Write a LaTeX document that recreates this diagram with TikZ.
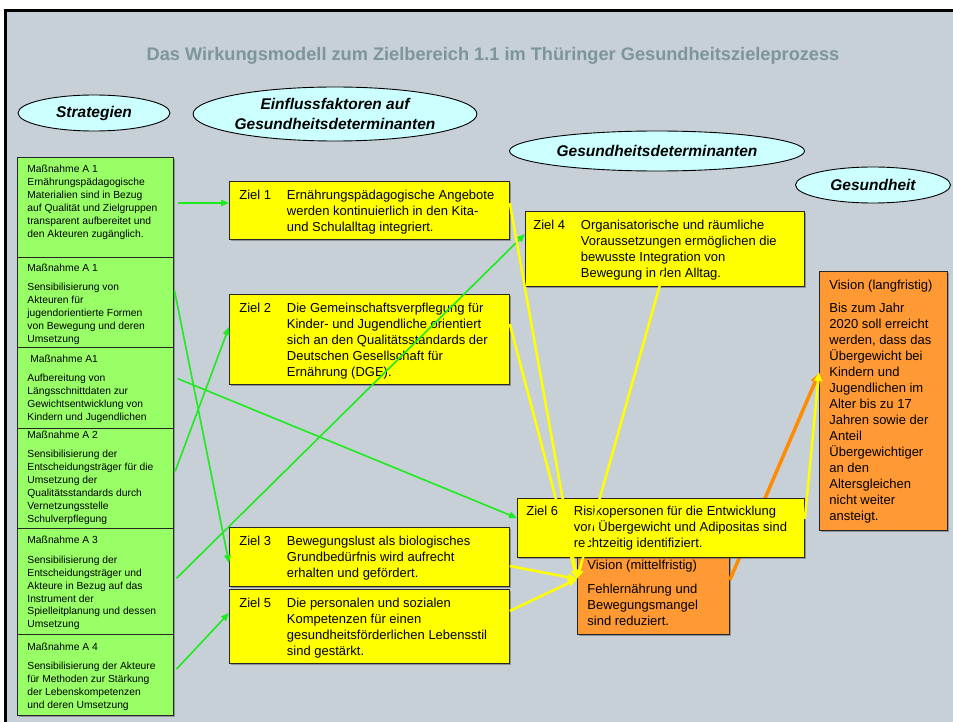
\documentclass[tikz,border=0pt]{standalone}
\usepackage{fontspec}
\setmainfont{Liberation Sans}
\usetikzlibrary{shapes.geometric,arrows.meta,shadows,calc}
\definecolor{bgcol}{RGB}{198,208,214}
\definecolor{titlecol}{RGB}{124,150,154}
\definecolor{mgreen}{RGB}{153,255,102}
\definecolor{zyellow}{RGB}{255,255,0}
\definecolor{vorange}{RGB}{255,153,51}
\definecolor{ecyan}{RGB}{204,255,255}
\definecolor{lgreen}{RGB}{30,235,30}
\definecolor{lyellow}{RGB}{255,255,0}
\definecolor{lorange}{RGB}{255,140,0}
\newcommand\bxt[5]{\parbox[c][#2][t]{#1}{\leftskip=#3\relax\parindent=0pt\vspace*{#4}\strut #5\par}}
\newcommand\zl[2]{\makebox[47.5pt][l]{#1}\parbox[t]{225pt}{#2}}
\begin{document}
\begin{tikzpicture}[x=1pt,y=-1pt,
  shad/.style={drop shadow={shadow xshift=1.5pt,shadow yshift=-1.5pt,opacity=0.45,fill=black!70}},
  gbox/.style={draw=black!85,line width=0.8pt,fill=mgreen,inner sep=0pt,anchor=north west,shad,
    font=\fontsize{10.3}{12.9}\selectfont},
  ybox/.style={draw=black!85,line width=0.8pt,fill=zyellow,inner sep=0pt,anchor=north west,shad,
    font=\fontsize{13}{16}\selectfont},
  obox/.style={ybox,fill=vorange},
  ell/.style={ellipse,draw=black,line width=0.9pt,fill=ecyan,inner sep=0pt,align=center,
    font=\bfseries\itshape\fontsize{15.5}{20}\selectfont},
  garrow/.style={draw=lgreen,line width=1.6pt,-{Triangle[length=8pt,width=6.5pt]},shorten <=4pt},
  yarrow/.style={draw=lyellow,line width=2.5pt,-{Triangle[length=9pt,width=7.5pt]}},
  oarrow/.style={draw=lorange,line width=3.5pt,-{Triangle[length=10pt,width=8.5pt]}}]
\useasboundingbox (0,0) rectangle (953,722);
\fill[white] (0,0) rectangle (953,722);
\fill[bgcol] (5,10) rectangle (953,722);
\draw[line width=2.5pt] (5.5,722) -- (5.5,10.5) -- (953,10.5);

\node[font=\bfseries\fontsize{18.2}{21}\selectfont,text=titlecol] (title) at (493,56)
  {Das Wirkungsmodell zum Zielbereich 1.1 im Thüringer Gesundheitszieleprozess};

\node[ell,minimum width=152pt,minimum height=36pt] (e1) at (94,113) {Strategien};
\node[ell,minimum width=270pt,minimum height=54pt] (e2) at (335,114) {Einflussfaktoren auf\\Gesundheitsdeterminanten};
\node[ell,minimum width=295pt,minimum height=40pt] (e3) at (657,151) {Gesundheitsdeterminanten};
\node[ell,minimum width=155pt,minimum height=36pt] (e4) at (873,185) {Gesundheit};

% green boxes
\node[gbox] (g1) at (17,157) {\bxt{156pt}{100pt}{10pt}{6.5pt}{Maßnahme A 1\\Ernährungspädagogische\\Materialien sind in Bezug\\auf Qualität und Zielgruppen\\transparent aufbereitet und\\den Akteuren zugänglich.}};
\node[gbox] (g2) at (17,257) {\bxt{156pt}{90pt}{10pt}{5pt}{Maßnahme A 1\par\vspace{6.6pt}Sensibilisierung von\\Akteuren für\\jugendorientierte Formen\\von Bewegung und deren\\Umsetzung}};
\node[gbox] (g3) at (17,347) {\bxt{156pt}{81pt}{10pt}{6pt}{\hspace*{3pt}Maßnahme A1\par\vspace{6pt}Aufbereitung von\\Längsschnittdaten zur\\Gewichtsentwicklung von\\Kindern und Jugendlichen}};
\node[gbox] (g4) at (17,428) {\bxt{156pt}{100pt}{10pt}{1pt}{Maßnahme A 2\par\vspace{6.6pt}Sensibilisierung der\\Entscheidungsträger für die\\Umsetzung der\\Qualitätsstandards durch\\Vernetzungsstelle\\Schulverpflegung}};
\node[gbox] (g5) at (17,528) {\bxt{156pt}{106pt}{10pt}{6pt}{Maßnahme A 3\par\vspace{7pt}Sensibilisierung der\\Entscheidungsträger und\\Akteure in Bezug auf das\\Instrument der\\Spielleitplanung und dessen\\Umsetzung}};
\node[gbox] (g6) at (17,634) {\bxt{156pt}{81pt}{10pt}{7pt}{Maßnahme A 4\par\vspace{6.6pt}Sensibilisierung der Akteure\\für Methoden zur Stärkung\\der Lebenskompetenzen\\und deren Umsetzung}};

% yellow boxes
\node[ybox] (z1) at (229,181) {\bxt{280pt}{58pt}{10pt}{6.5pt}{\zl{Ziel 1}{Ernährungspädagogische Angebote\\werden kontinuierlich in den Kita-\\und Schulalltag integriert.}}};
\node[ybox] (z2) at (229,294) {\bxt{280pt}{90pt}{10pt}{6.5pt}{\zl{Ziel 2}{Die Gemeinschaftsverpflegung für\\Kinder- und Jugendliche orientiert\\sich an den Qualitätsstandards der\\Deutschen Gesellschaft für\\Ernährung (DGE).}}};
\node[ybox] (z3) at (229,527) {\bxt{280pt}{59pt}{10pt}{6.8pt}{\zl{Ziel 3}{Bewegungslust als biologisches\\Grundbedürfnis wird aufrecht\\erhalten und gefördert.}}};
\node[ybox] (z5) at (229,589) {\bxt{280pt}{74pt}{10pt}{6.8pt}{\zl{Ziel 5}{Die personalen und sozialen\\Kompetenzen für einen\\gesundheitsförderlichen Lebensstil\\sind gestärkt.}}};
\node[ybox] (z4) at (525,211) {\bxt{279pt}{75pt}{8pt}{6.6pt}{\zl{Ziel 4}{Organisatorische und räumliche\\Voraussetzungen ermöglichen die\\bewusste Integration von\\Bewegung in den Alltag.}}};
\node[obox] (vl) at (819,271) {\bxt{128pt}{259pt}{10pt}{7.3pt}{Vision (langfristig)\par\vspace{7pt}Bis zum Jahr\\2020 soll erreicht\\werden, dass das\\Übergewicht bei\\Kindern und\\Jugendlichen im\\Alter bis zu 17\\Jahren sowie der\\Anteil\\Übergewichtiger\\an den\\Altersgleichen\\nicht weiter\\ansteigt.}};
\node[obox] (vm) at (577,551) {\bxt{152pt}{83pt}{10pt}{6.6pt}{Vision (mittelfristig)\par\vspace{8pt}Fehlernährung und\\Bewegungsmangel\\sind reduziert.}};

\draw[oarrow] (vm.east |- 0,580) -- (vl.west |- 0,373);

\node[ybox] (z6) at (517,498) {\bxt{287pt}{59pt}{9pt}{6.3pt}{\zl{Ziel 6}{Risikopersonen für die Entwicklung\\von Übergewicht und Adipositas sind\\rechtzeitig identifiziert.}}};

% green connectors
\draw[garrow] (g1.east |- 0,203) -- (z1.west |- 0,203);
\draw[garrow] (g2.east |- 0,287) -- (z3.west |- 0,563);
\draw[garrow] (g3.east |- 0,377) -- (z6.west |- 0,518);
\draw[garrow] (g4.east |- 0,475) -- (z2.west |- 0,327);
\draw[garrow] (g5.east |- 0,581) -- (z4.west |- 0,234);
\draw[garrow] (g6.east |- 0,672) -- (z5.west |- 0,613);

% yellow connectors
\draw[yarrow] (z1.east |- 0,203) -- (vm.west |- 0,579);
\draw[yarrow] (z2.east |- 0,324) -- (vm.west |- 0,579);
\draw[yarrow] ([xshift=-1pt,yshift=16pt]z4.south) -- (vm.west |- 0,579);
\draw[yarrow] (z3.east |- 0,566) -- (vm.west |- 0,579);
\draw[yarrow] (z5.east |- 0,611) -- (vm.west |- 0,579);
\draw[yarrow] (z6.east |- 0,519) -- (vl.west |- 0,372);
\end{tikzpicture}
\end{document}
